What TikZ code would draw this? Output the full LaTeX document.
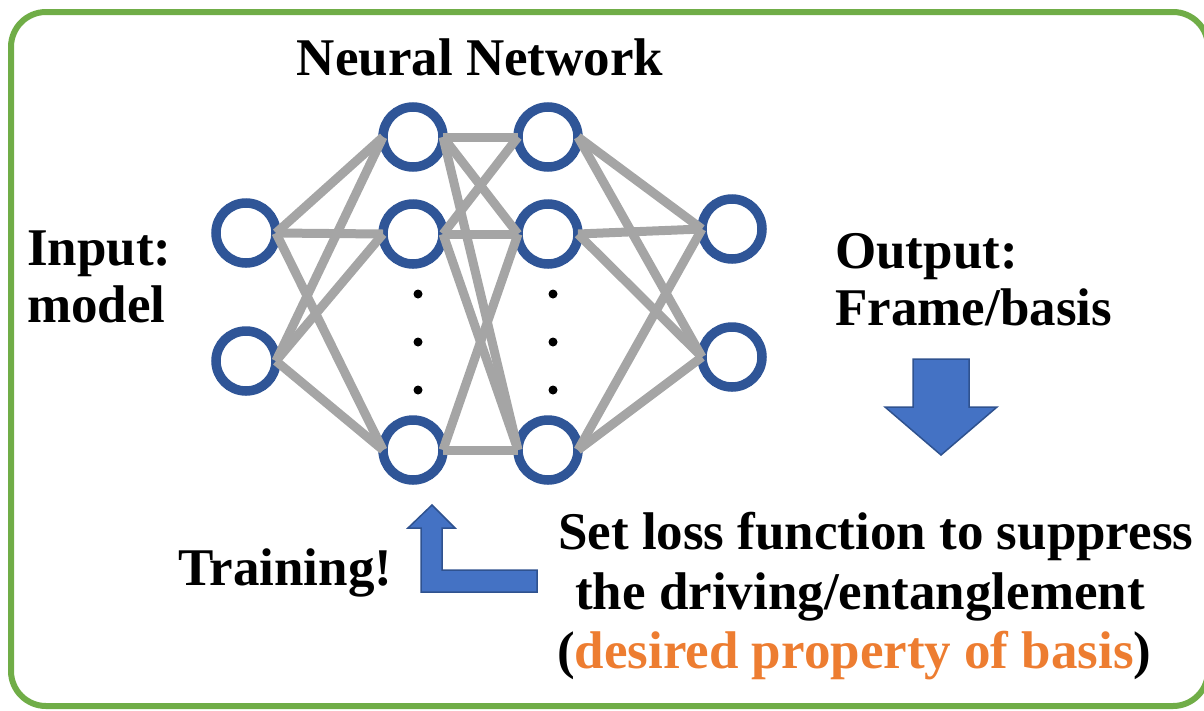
\documentclass[tikz,border=0pt]{standalone}
\usepackage{fontspec}
\setmainfont{Liberation Serif}
\definecolor{framegreen}{RGB}{112,173,71}
\definecolor{nodeblue}{RGB}{47,85,151}
\definecolor{edgegray}{RGB}{165,165,165}
\definecolor{arrowfill}{RGB}{68,114,196}
\definecolor{arrowline}{RGB}{47,82,143}
\definecolor{accent}{RGB}{237,125,49}
\tikzset{
  neuron/.style={circle, draw=nodeblue, line width=9.5pt, minimum size=60pt, inner sep=0pt, outer sep=0pt, fill=white},
  link/.style={draw=edgegray, line width=9pt},
  vdot/.style={circle, fill=black, minimum size=9pt, inner sep=0pt},
  txt/.style={font=\fontsize{53}{60}\selectfont\bfseries, inner sep=0pt, anchor=base west},
  blockarrow/.style={fill=arrowfill, draw=arrowline, line width=1.5pt, line join=miter},
}
\begin{document}
\begin{tikzpicture}[x=1pt, y=-1pt]
\useasboundingbox (0,0) rectangle (1204,710);
\clip (0,0) rectangle (1204,710);
\draw[framegreen, line width=6pt, rounded corners=35pt] (11,12) rectangle (1208,706);

% neurons
\node[neuron] (i1) at (246,233) {};
\node[neuron] (i2) at (246,361) {};
\node[neuron] (a1) at (413,137) {};
\node[neuron] (a2) at (413,234) {};
\node[neuron] (a3) at (413,450) {};
\node[neuron] (b1) at (548,137) {};
\node[neuron] (b2) at (548,234) {};
\node[neuron] (b3) at (548,450) {};
\node[neuron] (o1) at (732,229) {};
\node[neuron] (o2) at (732,357) {};

% dots
\node[vdot] (da1) at (418,294) {};
\node[vdot] (da2) at (418,342) {};
\node[vdot] (da3) at (418,390) {};
\node[vdot] (db1) at (553,294) {};
\node[vdot] (db2) at (553,342) {};
\node[vdot] (db3) at (553,390) {};

% links
\foreach \s in {i1,i2}{\foreach \t in {a1,a2,a3}{\draw[link] (\s.east) -- (\t.west);}}
\draw[link] (a1.east) -- (b1.west);
\draw[link] (a1.east) -- (b2.west);
\draw[link] (a1.east) -- (b3.west);
\draw[link] (a2.east) -- (b1.west);
\draw[link] (a2.east) -- (b2.west);
\draw[link] (a2.east) -- (b3.west);
\draw[link] (a3.east) -- (b2.west);
\draw[link] (a3.east) -- (b3.west);
\foreach \s in {b1,b2,b3}{\foreach \t in {o1,o2}{\draw[link] (\s.east) -- (\t.west);}}

% texts
\node[txt, anchor=base] (title) at (480,75) {Neural Network};
\node[txt] (in1) at (27,265) {Input:};
\node[txt] (in2) at (27,322) {model};
\node[txt] (out1) at (835,268) {Output:};
\node[txt] (out2) at (835,325) {Frame/basis};
\node[txt] (train) at (178,585) {Training!};
\node[txt] (l1) at (558,549) {Set loss function to suppress};
\node[txt] (l2) at (575,609) {the driving/entanglement};
\node[txt] (l3) at (557,668) {(\textcolor{accent}{desired property of basis})};

% arrows
\path[blockarrow] (913,359) -- (969,359) -- (969,407) -- (997,407) -- (941,455) -- (885,407) -- (913,407) -- cycle;
\path[blockarrow] (432,505) -- (455,528) -- (442,528) -- (442,570) -- (537,570) -- (537,592) -- (421,592) -- (421,528) -- (408,528) -- cycle;
\end{tikzpicture}
\end{document}
